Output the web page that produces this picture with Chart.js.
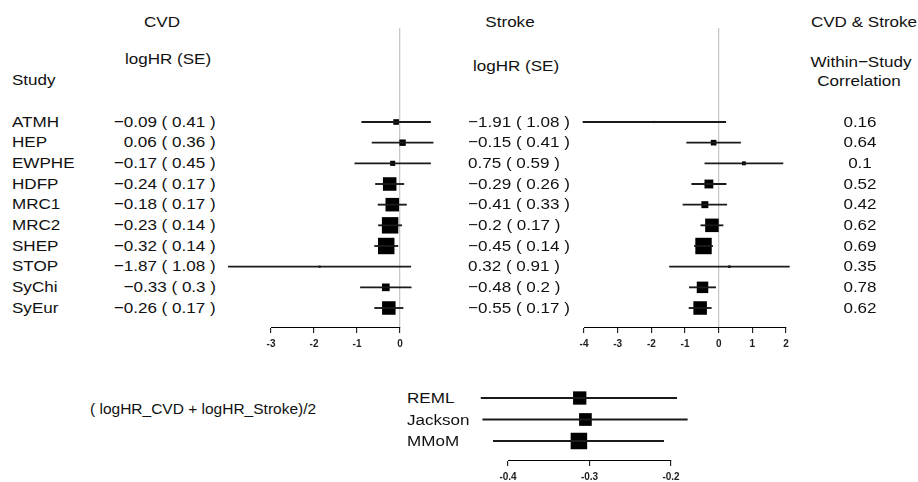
<!DOCTYPE html>
<html>
<head>
<meta charset="utf-8">
<title>Forest plot</title>
<script src="https://cdn.jsdelivr.net/npm/chart.js@4.4.1/dist/chart.umd.min.js"></script>
<style>
  html, body { margin: 0; padding: 0; background: #fff; }
  #page { position: relative; width: 918px; height: 482px; overflow: hidden;
          font-family: "Liberation Sans", Arial, Helvetica, sans-serif; color: #111; }
  .t { position: absolute; white-space: pre; line-height: 20px; height: 20px; }
  .plot { position: absolute; }
</style>
</head>
<body>
<div id="page">
  <div class="plot" style="left:220px;top:0;width:230px;height:360px"><canvas id="cvd"></canvas></div>
  <div class="plot" style="left:560px;top:0;width:240px;height:360px"><canvas id="stroke"></canvas></div>
  <div class="plot" style="left:460px;top:370px;width:250px;height:114px"><canvas id="pooled"></canvas></div>
</div>
<script>
// study level data
const studies = ["ATMH", "HEP", "EWPHE", "HDFP", "MRC1", "MRC2", "SHEP", "STOP", "SyChi", "SyEur"];
const cvdEst = [-0.09, 0.06, -0.17, -0.24, -0.18, -0.23, -0.32, -1.87, -0.33, -0.26];
const cvdSE = [0.41, 0.36, 0.45, 0.17, 0.17, 0.14, 0.14, 1.08, 0.3, 0.17];
const cvdLow = [-0.89, -0.65, -1.05, -0.57, -0.51, -0.50, -0.59, -3.99, -0.92, -0.59];
const cvdHigh = [0.71, 0.77, 0.71, 0.09, 0.15, 0.04, -0.05, 0.25, 0.26, 0.07];
const strokeEst = [-1.91, -0.15, 0.75, -0.29, -0.41, -0.2, -0.45, 0.32, -0.48, -0.55];
const strokeSE = [1.08, 0.41, 0.59, 0.26, 0.33, 0.17, 0.14, 0.91, 0.2, 0.17];
const strokeLow = [-4.03, -0.95, -0.41, -0.80, -1.06, -0.53, -0.72, -1.46, -0.87, -0.88];
const strokeHigh = [0.21, 0.65, 1.91, 0.22, 0.24, 0.13, -0.18, 2.10, -0.09, -0.22];
const withinCorr = [0.16, 0.64, 0.1, 0.52, 0.42, 0.62, 0.69, 0.35, 0.78, 0.62];

// pooled estimate of (logHR_CVD + logHR_Stroke)/2
const methods = ["REML", "Jackson", "MMoM"];
const pooledEst = [-0.312, -0.305, -0.313];
const pooledLow = [-0.433, -0.431, -0.418];
const pooledHigh = [-0.193, -0.180, -0.209];

// axis ranges [min, max, step]
const cvdAxis = [-3, 0, 1];
const strokeAxis = [-4, 2, 1];
const pooledAxis = [-0.4, -0.2, 0.1];

// styles
const LINE_COLOR = "#1a1a1a";
const REF_COLOR = "#c8c8c8";
const BOX_K = 2.3;               // box side (px) = BOX_K / SE
const POOLED_BOX = [13.3, 12.7, 16.5];
const FONT = "'Liberation Sans', Arial, Helvetica, sans-serif";
const TXT = 15.5;
const STRETCH = 1.1;

const page = document.getElementById("page");
const minus = v => String(v).replace("-", "\u2212");

function put(text, x, y, align, stretch) {
  const sx = stretch === undefined ? STRETCH : stretch;
  const d = document.createElement("div");
  d.className = "t";
  d.textContent = text;
  d.style.fontSize = TXT + "px";
  d.style.top = (y - 10) + "px";
  if (align === "left") {
    d.style.left = x + "px";
    d.style.transformOrigin = "left center";
    d.style.transform = "scaleX(" + sx + ")";
  } else if (align === "right") {
    d.style.right = (918 - x) + "px";
    d.style.transformOrigin = "right center";
    d.style.transform = "scaleX(" + sx + ")";
  } else {
    d.style.left = x + "px";
    d.style.transformOrigin = "left center";
    d.style.transform = "scaleX(" + sx + ") translateX(-50%)";
  }
  page.appendChild(d);
}

// headers
put("CVD", 162, 22, "center");
put("Stroke", 510, 22, "center");
put("CVD & Stroke", 864, 22, "center");
put("logHR (SE)", 168, 59, "center");
put("logHR (SE)", 516, 66, "center");
put("Within\u2212Study", 861, 62, "center");
put("Correlation", 859, 81, "center");
put("Study", 12, 80, "left");

// table rows
const rowY = i => 121.5 + i * 20.7;
studies.forEach((s, i) => {
  put(s, 12, rowY(i), "left");
  put(minus(cvdEst[i]) + " ( " + cvdSE[i] + " )", 216, rowY(i), "right");
  put(minus(strokeEst[i]) + " ( " + strokeSE[i] + " )", 468, rowY(i), "left");
  put(String(withinCorr[i]), 860, rowY(i), "center");
});

put("( logHR_CVD + logHR_Stroke)/2", 90, 409, "left", 1.0);
methods.forEach((m, i) => put(m, 407, 398 + i * 21.5, "left"));

function forestChart(id, o) {
  return new Chart(document.getElementById(id), {
    type: "bar",
    data: {
      datasets: [
        {
          type: "bar",
          data: o.low.map((lo, i) => ({ x: [lo, o.high[i]], y: i + 1 })),
          backgroundColor: LINE_COLOR,
          barThickness: 1.2,
          borderWidth: 0,
          clip: false,
        },
        {
          type: "scatter",
          data: o.est.map((e, i) => ({ x: e, y: i + 1 })),
          pointStyle: "rect",
          pointRadius: o.side.map(s => s / Math.SQRT2),
          pointBackgroundColor: "#000",
          pointBorderWidth: 0,
          clip: false,
        },
      ],
    },
    options: {
      indexAxis: "y",
      responsive: true,
      maintainAspectRatio: false,
      animation: false,
      events: [],
      layout: { padding: o.pad },
      plugins: { legend: { display: false }, tooltip: { enabled: false } },
      scales: {
        x: {
          type: "linear",
          min: o.axis[0],
          max: o.axis[1],
          afterFit: s => { s.height = 24; },
          ticks: {
            stepSize: o.axis[2],
            color: "#222",
            padding: 5,
            maxRotation: 0,
            font: { family: FONT, size: 10, weight: "bold" },
          },
          grid: {
            drawOnChartArea: true,
            color: c => (o.refLine && c.tick && c.tick.value === 0) ? REF_COLOR : "rgba(0,0,0,0)",
            lineWidth: 1.3,
            tickColor: "#000",
            tickWidth: 1,
            tickLength: 6,
          },
          border: { display: true, color: "#000", width: 1 },
        },
        y: {
          type: "linear",
          display: false,
          reverse: true,
          offset: false,
          min: o.yRange[0],
          max: o.yRange[1],
        },
      },
    },
  });
}

forestChart("cvd", {
  est: cvdEst, low: cvdLow, high: cvdHigh,
  side: cvdSE.map(se => BOX_K / se),
  axis: cvdAxis, refLine: true,
  pad: { left: 51, right: 50, top: 28, bottom: 9 },
  yRange: [-3.548, 10.919],
});

forestChart("stroke", {
  est: strokeEst, low: strokeLow, high: strokeHigh,
  side: strokeSE.map(se => BOX_K / se),
  axis: strokeAxis, refLine: true,
  pad: { left: 24, right: 14, top: 28, bottom: 9 },
  yRange: [-3.548, 10.919],
});

forestChart("pooled", {
  est: pooledEst, low: pooledLow, high: pooledHigh,
  side: POOLED_BOX,
  axis: pooledAxis, refLine: false,
  pad: { left: 48, right: 39, top: 15, bottom: 0 },
  yRange: [0.395, 3.884],
});
</script>
</body>
</html>
